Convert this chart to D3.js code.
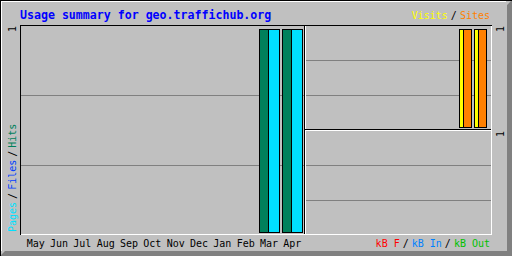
<!DOCTYPE html>
<head>
<meta charset="utf-8">
<title>Usage summary for geo.traffichub.org</title>
<style>
  body { margin: 0; padding: 0; background: #fff; }
  svg { display: block; }
  text { font-family: 'DejaVu Sans Mono', monospace; }
  .crisp { shape-rendering: crispEdges; }
</style>
</head>
<body>
<div id="vis"></div>
<script src="https://cdn.jsdelivr.net/npm/d3@7/dist/d3.min.js"></script>
<script>
  var title  = 'Usage summary for geo.traffichub.org';
  var months = ['May','Jun','Jul','Aug','Sep','Oct','Nov','Dec','Jan','Feb','Mar','Apr'];
  var hits   = [0,0,0,0,0,0,0,0,0,0,1,1];
  var files  = [0,0,0,0,0,0,0,0,0,0,0,0];
  var pages  = [0,0,0,0,0,0,0,0,0,0,1,1];
  var visits = [0,0,0,0,0,0,0,0,0,0,1,1];
  var sites  = [0,0,0,0,0,0,0,0,0,0,1,1];
  var kbytes = [0,0,0,0,0,0,0,0,0,0,0,0];
  var kbIn   = [0,0,0,0,0,0,0,0,0,0,0,0];
  var kbOut  = [0,0,0,0,0,0,0,0,0,0,0,0];

  var grey = '#c0c0c0', dkgrey = '#808080';

  var svg = d3.select('#vis').append('svg')
      .attr('width', 512)
      .attr('height', 256);

  // frame with drop shadow
  svg.append('rect').attr('class', 'crisp')
      .attr('width', 512).attr('height', 256).attr('fill', grey);
  svg.append('polygon')
      .attr('points', '0,256 5,251 507,251 507,5 512,0 512,256')
      .attr('fill', dkgrey);
  var edge = svg.append('g').attr('class', 'crisp');
  edge.append('line').attr('x1', 0).attr('x2', 512).attr('y1', 0.5).attr('y2', 0.5).attr('stroke', '#000');
  edge.append('line').attr('x1', 0.5).attr('x2', 0.5).attr('y1', 0).attr('y2', 256).attr('stroke', '#000');
  edge.append('line').attr('x1', 1).attr('x2', 506).attr('y1', 1.5).attr('y2', 1.5).attr('stroke', '#fff');
  edge.append('line').attr('x1', 1.5).attr('x2', 1.5).attr('y1', 1).attr('y2', 251).attr('stroke', '#fff');

  // plot frame: dark top/left, white bottom/right
  var frame = svg.append('g').attr('class', 'crisp');
  frame.append('line').attr('x1', 20).attr('x2', 492).attr('y1', 25.5).attr('y2', 25.5).attr('stroke', '#000');
  frame.append('line').attr('x1', 20.5).attr('x2', 20.5).attr('y1', 25).attr('y2', 235).attr('stroke', '#000');
  frame.append('line').attr('x1', 21).attr('x2', 492).attr('y1', 234.5).attr('y2', 234.5).attr('stroke', '#fff');
  frame.append('line').attr('x1', 491.5).attr('x2', 491.5).attr('y1', 26).attr('y2', 235).attr('stroke', '#fff');

  // panels
  var panels = [
    { x0: 21, x1: 304, top: 25, bottom: 235 },
    { x0: 306, x1: 491, top: 25, bottom: 130 },
    { x0: 306, x1: 491, top: 130, bottom: 235 }
  ];
  panels.forEach(function(p) {
    var g = d3.scaleLinear().domain([0, 1]).range([p.bottom, p.top]);
    svg.append('g').attr('class', 'crisp')
      .selectAll('line')
      .data([1 / 3, 2 / 3])
      .enter().append('line')
        .attr('x1', p.x0).attr('x2', p.x1)
        .attr('y1', function(d) { return Math.round(g(d)) + 0.5; })
        .attr('y2', function(d) { return Math.round(g(d)) + 0.5; })
        .attr('stroke', dkgrey);
  });

  // section dividers
  var div = svg.append('g').attr('class', 'crisp');
  div.append('line').attr('x1', 304.5).attr('x2', 304.5).attr('y1', 26).attr('y2', 234).attr('stroke', '#000');
  div.append('line').attr('x1', 305.5).attr('x2', 305.5).attr('y1', 26).attr('y2', 234).attr('stroke', '#fff');
  div.append('line').attr('x1', 305).attr('x2', 491).attr('y1', 129.5).attr('y2', 129.5).attr('stroke', '#000');
  div.append('line').attr('x1', 306).attr('x2', 491).attr('y1', 130.5).attr('y2', 130.5).attr('stroke', '#fff');

  // scales
  var maxHits = Math.max(d3.max(hits), 1),
      maxVisits = Math.max(d3.max(visits), 1),
      maxKb = Math.max(d3.max(kbytes), 1);

  var xLeft  = d3.scaleBand().domain(months).range([29, 29 + 23 * 12]),
      xRight = d3.scaleBand().domain(months).range([309, 309 + 15 * 12]),
      xLabel = d3.scaleBand().domain(months).range([24, 304]),
      yLeft  = d3.scaleLinear().domain([0, maxHits]).range([232, 29]),
      yTop   = d3.scaleLinear().domain([0, maxVisits]).range([127, 29]),
      yBot   = d3.scaleLinear().domain([0, maxKb]).range([232, 134]);

  var series = [
    { values: hits,   color: '#00805c', x: xLeft,  y: yLeft, off: 0, w: 13 },
    { values: files,  color: '#0040ff', x: xLeft,  y: yLeft, off: 4, w: 12 },
    { values: pages,  color: '#00e0ff', x: xLeft,  y: yLeft, off: 9, w: 11 },
    { values: visits, color: '#ffff00', x: xRight, y: yTop,  off: 0, w: 8 },
    { values: sites,  color: '#ff8000', x: xRight, y: yTop,  off: 4, w: 8 },
    { values: kbytes, color: '#ff0000', x: xRight, y: yBot,  off: 0, w: 8 },
    { values: kbIn,   color: '#0080ff', x: xRight, y: yBot,  off: 2, w: 8 },
    { values: kbOut,  color: '#00c000', x: xRight, y: yBot,  off: 4, w: 8 }
  ];

  series.forEach(function(s) {
    svg.append('g').attr('class', 'crisp')
      .selectAll('rect')
      .data(months.filter(function(m, i) { return s.values[i] > 0; }))
      .enter().append('rect')
        .attr('x', function(m) { return s.x(m) + s.off + 0.5; })
        .attr('y', function(m) { return Math.round(s.y(s.values[months.indexOf(m)])) + 0.5; })
        .attr('width', s.w)
        .attr('height', function(m) { return s.y(0) - Math.round(s.y(s.values[months.indexOf(m)])); })
        .attr('fill', s.color)
        .attr('stroke', '#000');
  });

  // title
  svg.append('text')
      .attr('x', 20).attr('y', 19)
      .attr('fill', '#0000ff')
      .style('font-size', '11.6px')
      .style('font-weight', 'bold')
      .text(title);

  // month labels
  svg.append('g')
    .selectAll('text')
    .data(months)
    .enter().append('text')
      .attr('x', function(m) { return xLabel(m) + xLabel.bandwidth() / 2; })
      .attr('y', 247)
      .attr('text-anchor', 'middle')
      .attr('fill', '#000')
      .style('font-size', '10px')
      .text(function(m) { return m; });

  // legends built from pieces
  function legend(parts, attrs) {
    var t = svg.append('text').style('font-size', '10px');
    for (var k in attrs) t.attr(k, attrs[k]);
    parts.forEach(function(p, i) {
      if (i > 0) {
        t.append('tspan').attr('dx', 3).attr('fill', '#000').text('/');
      }
      t.append('tspan').attr('dx', i > 0 ? 3 : 0).attr('fill', p[1]).text(p[0]);
    });
    return t;
  }

  legend([['Visits', '#ffff00'], ['Sites', '#ff8000']],
    { x: 490, y: 19, 'text-anchor': 'end' });
  legend([['kB F', '#ff0000'], ['kB In', '#0080ff'], ['kB Out', '#00c000']],
    { x: 490, y: 247, 'text-anchor': 'end' });
  legend([['Pages', '#00e0ff'], ['Files', '#0040ff'], ['Hits', '#00805c']],
    { transform: 'translate(16,232) rotate(-90)', 'text-anchor': 'start' });

  // max value labels
  var maxLabels = [
    { v: maxHits,   x: 16,  y: 32 },
    { v: maxVisits, x: 504, y: 32 },
    { v: maxKb,     x: 504, y: 137 }
  ];
  svg.append('g')
    .selectAll('text')
    .data(maxLabels)
    .enter().append('text')
      .attr('transform', function(d) { return 'translate(' + [d.x, d.y] + ') rotate(-90)'; })
      .attr('fill', '#000')
      .style('font-size', '10px')
      .text(function(d) { return d3.format('d')(d.v); });
</script>
</body>
